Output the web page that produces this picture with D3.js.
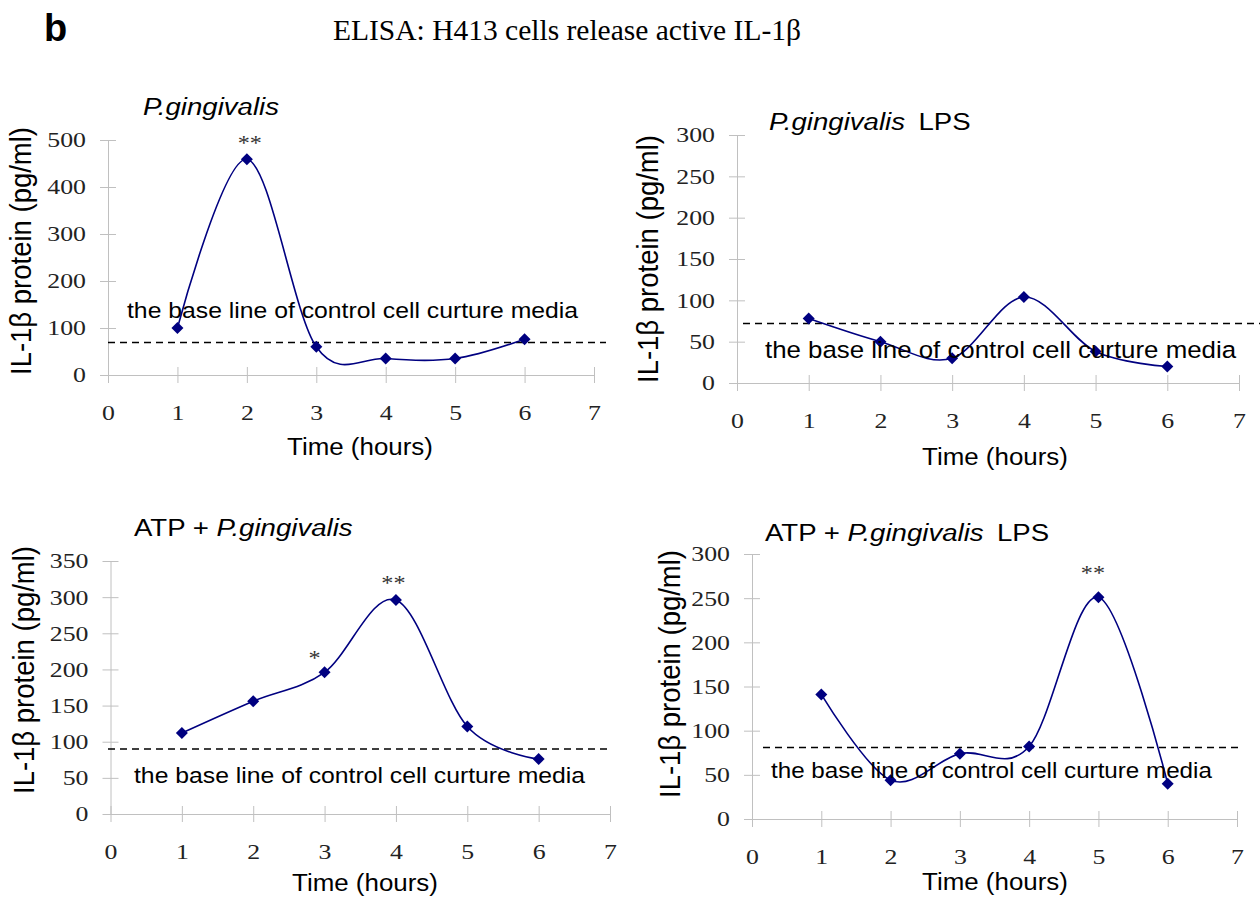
<!DOCTYPE html>
<html>
<head>
<meta charset="utf-8">
<script src="https://cdn.jsdelivr.net/npm/d3@7"></script>
<style>
  html, body { margin: 0; padding: 0; background: #fff; }
  svg { display: block; }
</style>
</head>
<body>
<svg id="chart" width="1260" height="900"></svg>
<script>
// ---------------- DATA ----------------
const hours = [1, 2, 3, 4, 5, 6];
const xTickValues = [0, 1, 2, 3, 4, 5, 6, 7];

const pgValues       = [100, 459, 60, 35, 35, 76];
const pgLpsValues    = [78, 50, 30, 104, 38, 20];
const atpPgValues    = [112, 156, 196, 296, 121, 76];
const atpPgLpsValues = [141, 44, 74, 82, 251, 40];

const baselineValues = [69, 72, 90, 81];

const yTicksPg       = [0, 100, 200, 300, 400, 500];
const yTicksPgLps    = [0, 50, 100, 150, 200, 250, 300];
const yTicksAtpPg    = [0, 50, 100, 150, 200, 250, 300, 350];
const yTicksAtpPgLps = [0, 50, 100, 150, 200, 250, 300];

const sigPg       = [{ hour: 2, label: "**" }];
const sigPgLps    = [];
const sigAtpPg    = [{ hour: 3, label: "*" }, { hour: 4, label: "**" }];
const sigAtpPgLps = [{ hour: 5, label: "**" }];

const mainTitle = "ELISA: H413 cells release active IL-1\u03B2";
const panelLetter = "b";
const yLabel = "IL-1\u03B2 protein (pg/ml)";
const xLabel = "Time (hours)";
const baselineLabel = "the base line of control cell curture media";

// ---------------- LAYOUT ----------------
const TICK_STRETCH = 1.2;
const SANS = "'Liberation Sans', Arial, sans-serif";
const SERIF = "'Liberation Serif', 'Times New Roman', serif";
const NAVY = "#000080";
const AXIS_GRAY = "#c0c0c0";

const panels = [
  { values: pgValues, base: baselineValues[0], yTicks: yTicksPg, sig: sigPg,
    title: [{ t: "P.gingivalis", it: true }],
    x0: 108, x7: 594, yTop: 140, yBot: 375, yMax: 500,
    dash: [108, 606], btX: 127, btY: 318, btSize: 22.5,
    tX: 143, tY: 115, ylX: 31, ylY: 251, timeX: 360, timeY: 455,
    sigOff: [{ dx: 3, dy: 9 }] },
  { values: pgLpsValues, base: baselineValues[1], yTicks: yTicksPgLps, sig: sigPgLps,
    title: [{ t: "P.gingivalis", it: true }, { t: " LPS", it: false, dx: 5 }],
    x0: 737, x7: 1239, yTop: 135, yBot: 383, yMax: 300,
    dash: [743, 1260], btX: 765, btY: 358, btSize: 23.5,
    tX: 769, tY: 130, ylX: 658, ylY: 259, timeX: 995, timeY: 465,
    sigOff: [] },
  { values: atpPgValues, base: baselineValues[2], yTicks: yTicksAtpPg, sig: sigAtpPg,
    title: [{ t: "ATP + ", it: false }, { t: "P.gingivalis", it: true }],
    x0: 110.5, x7: 610, yTop: 561, yBot: 814, yMax: 350,
    dash: [108, 608], btX: 134, btY: 783, btSize: 22.5,
    tX: 134, tY: 536, ylX: 34, ylY: 670, timeX: 365, timeY: 891,
    sigOff: [{ dx: -10, dy: 7 }, { dx: -2.5, dy: 10 }] },
  { values: atpPgLpsValues, base: baselineValues[3], yTicks: yTicksAtpPgLps, sig: sigAtpPgLps,
    title: [{ t: "ATP + ", it: false }, { t: "P.gingivalis", it: true }, { t: " LPS", it: false, dx: 5 }],
    x0: 752, x7: 1237, yTop: 554, yBot: 819, yMax: 300,
    dash: [763, 1242], btX: 771, btY: 778, btSize: 22,
    tX: 765, tY: 541, ylX: 680, ylY: 674, timeX: 995, timeY: 890,
    sigOff: [{ dx: -5.5, dy: 17 }] }
];

const svg = d3.select("#chart");

function hText(parent, x, y, size, family, parts, anchor, extra, stretch) {
  const sx = stretch === undefined ? 1 : stretch;
  const t = parent.append("text")
    .attr("transform", `translate(${x},${y}) scale(${sx},1)`)
    .attr("font-family", family)
    .attr("font-size", size)
    .attr("fill", "#000")
    .attr("text-anchor", anchor || "start");
  if (extra) extra(t);
  if (typeof parts === "string") {
    t.text(parts);
  } else {
    parts.forEach(p => {
      const ts = t.append("tspan").text(p.t);
      if (p.it) ts.attr("font-style", "italic");
      if (p.dx) ts.attr("dx", p.dx);
    });
  }
  return t;
}

function styleTickText(sel) {
  sel.attr("font-family", SERIF).attr("font-size", 21.5).attr("fill", "#222")
    .each(function () {
      const t = d3.select(this);
      const xv = +t.attr("x") || 0;
      t.attr("x", xv / TICK_STRETCH).attr("transform", `scale(${TICK_STRETCH},1)`);
    });
}

// header
hText(svg, 44, 41, 38, SANS, panelLetter, "start", t => t.attr("font-weight", "bold"), 1);
hText(svg, 333, 40, 29.5, SERIF, mainTitle, "start", null, 1);

const diamond = "M0,-6L6,0L0,6L-6,0Z";

panels.forEach(p => {
  const g = svg.append("g");
  const x = d3.scaleLinear().domain([0, 7]).range([p.x0, p.x7]);
  const y = d3.scaleLinear().domain([0, p.yMax]).range([p.yBot, p.yTop]);

  // x axis
  const xa = g.append("g")
    .attr("transform", `translate(0,${p.yBot})`)
    .call(d3.axisBottom(x).tickValues(xTickValues).tickSize(8).tickSizeOuter(0).tickPadding(22).tickFormat(d3.format("d")));
  xa.selectAll(".tick line").attr("y1", -8).attr("y2", 8).attr("stroke", AXIS_GRAY);
  xa.select(".domain").attr("stroke", AXIS_GRAY);
  styleTickText(xa.selectAll("text"));

  // y axis
  const ya = g.append("g")
    .attr("transform", `translate(${p.x0},0)`)
    .call(d3.axisLeft(y).tickValues(p.yTicks).tickSize(8).tickSizeOuter(0).tickPadding(14).tickFormat(d3.format("d")));
  ya.selectAll(".tick line").attr("x1", 8).attr("x2", -8).attr("stroke", AXIS_GRAY);
  ya.select(".domain").attr("stroke", AXIS_GRAY);
  styleTickText(ya.selectAll("text"));

  // baseline dashed line
  g.append("line")
    .attr("x1", p.dash[0]).attr("x2", p.dash[1])
    .attr("y1", y(p.base)).attr("y2", y(p.base))
    .attr("stroke", "#000").attr("stroke-width", 1.5)
    .attr("stroke-dasharray", "7,5");

  // smoothed series line
  const pts = hours.map((h, i) => ({ h, v: p.values[i] }));
  g.append("path")
    .datum(pts)
    .attr("fill", "none")
    .attr("stroke", NAVY)
    .attr("stroke-width", 1.6)
    .attr("d", d3.line().x(d => x(d.h)).y(d => y(d.v)).curve(d3.curveCardinal.tension(0)));

  // markers
  g.selectAll("path.mk").data(pts).enter().append("path")
    .attr("class", "mk")
    .attr("d", diamond)
    .attr("fill", NAVY)
    .attr("transform", d => `translate(${x(d.h)},${y(d.v)})`);

  // baseline label
  hText(g, p.btX, p.btY, p.btSize, SANS, baselineLabel, "start", null, 1.1);

  // significance stars
  p.sig.forEach((s, i) => {
    const v = p.values[hours.indexOf(s.hour)];
    const o = p.sigOff[i];
    hText(g, x(s.hour) + o.dx, y(v) - o.dy, 22, SERIF, s.label, "middle", t => t.attr("fill", "#333"), 1.1);
  });

  // panel title
  hText(g, p.tX, p.tY, 24, SANS, p.title, "start", null, 1.15);

  // y label
  g.append("text")
    .attr("transform", `translate(${p.ylX},${p.ylY}) rotate(-90) scale(1,1.1)`)
    .attr("text-anchor", "middle")
    .attr("font-family", SANS)
    .attr("font-size", 27.5)
    .attr("fill", "#000")
    .text(yLabel);

  // x label
  hText(g, p.timeX, p.timeY, 24, SANS, xLabel, "middle", null, 1.08);
});
</script>
</body>
</html>
